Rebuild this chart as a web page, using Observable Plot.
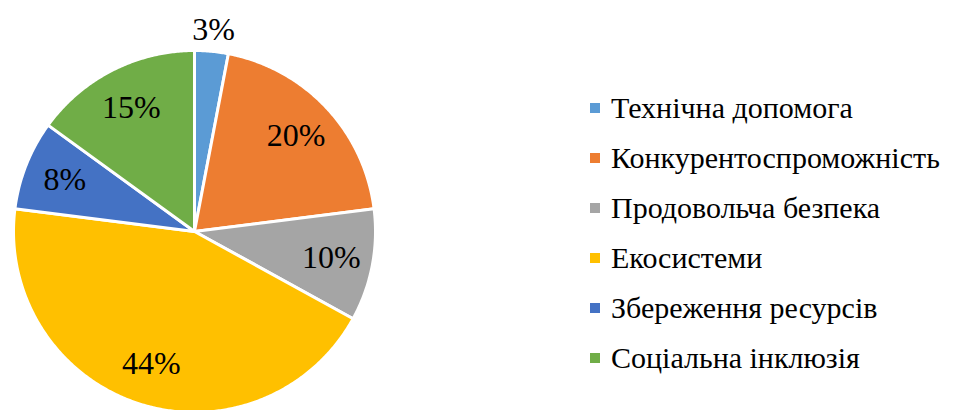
<!DOCTYPE html>
<html><head><meta charset="utf-8">
<script src="https://cdn.jsdelivr.net/npm/d3@7"></script>
<script src="https://cdn.jsdelivr.net/npm/@observablehq/plot@0.6"></script>
<style>
body{margin:0;background:#fff;}
#wrap{position:relative;width:957px;height:410px;overflow:hidden;}
#legend{position:absolute;left:590px;top:83px;}
#legend .lg-swatches{font-family:"Times New Roman","Liberation Serif","DejaVu Serif",serif !important;font-size:30px !important;color:#000;width:367px;margin:0;}
#legend .lg-swatch{height:50px;padding:0;}
#legend .lg-swatch > svg{margin-right:11px;}
#chart text{font-family:"Times New Roman","Liberation Serif","DejaVu Serif",serif;}
</style></head><body><div id="wrap"><div id="chart"></div><div id="legend"></div></div>
<script>
// ---- data ----
const categories = ["Технічна допомога","Конкурентоспроможність","Продовольча безпека","Екосистеми","Збереження ресурсів","Соціальна інклюзія"];
const values = [3, 20, 10, 44, 8, 15];
const colors = ["#5B9BD5","#ED7D31","#A5A5A5","#FFC000","#4472C4","#70AD47"];
const labels = values.map(v => v + "%");

// ---- layout ----
const W = 957, H = 410, cx = 194, cy = 231, R = 181;
const serif = '"Times New Roman","Liberation Serif","DejaVu Serif",serif';

const rows = categories.map((c, i) => ({category: c, value: values[i], label: labels[i]}));
const arcs = d3.pie().sort(null).value(d => d.value)(rows);

// polygon outline of each slice, in unit-radius coordinates
const poly = [];
arcs.forEach(a => {
  const k = a.data.category;
  poly.push({k, x: 0, y: 0});
  const n = Math.max(2, Math.ceil((a.endAngle - a.startAngle) / (Math.PI / 360)));
  for (let j = 0; j <= n; j++) {
    const t = a.startAngle + (a.endAngle - a.startAngle) * j / n;
    poly.push({k, x: Math.sin(t), y: Math.cos(t)});
  }
  poly.push({k, x: 0, y: 0});
});

const labelPos = arcs.map(a => {
  const m = (a.startAngle + a.endAngle) / 2;
  const f = a.data.value < 5 ? 1.12 : 0.77;
  return {label: a.data.label, x: f * Math.sin(m), y: f * Math.cos(m)};
});

const chart = Plot.plot({
  width: W, height: H,
  margin: 0,
  x: {domain: [-cx / R, (W - cx) / R], range: [0, W], axis: null},
  y: {domain: [(cy - H) / R, cy / R], range: [H, 0], axis: null},
  color: {type: "ordinal", domain: categories, range: colors},
  style: {background: "#fff", overflow: "visible", fontFamily: serif},
  marks: [
    Plot.line(poly, {x: "x", y: "y", z: "k", fill: "k", stroke: "white", strokeWidth: 3, curve: "linear-closed", strokeLinejoin: "round"}),
    Plot.text(labelPos, {x: "x", y: "y", text: "label", fontSize: 32, fontFamily: serif, fill: "#000"})
  ]
});
document.getElementById("chart").appendChild(chart);

const legend = Plot.legend({
  color: {type: "ordinal", domain: categories, range: colors},
  legend: "swatches", columns: 1, swatchSize: 10, className: "lg",
  style: {fontFamily: serif, fontSize: "30px", color: "#000"}
});
document.getElementById("legend").appendChild(legend);
</script>
</body></html>
